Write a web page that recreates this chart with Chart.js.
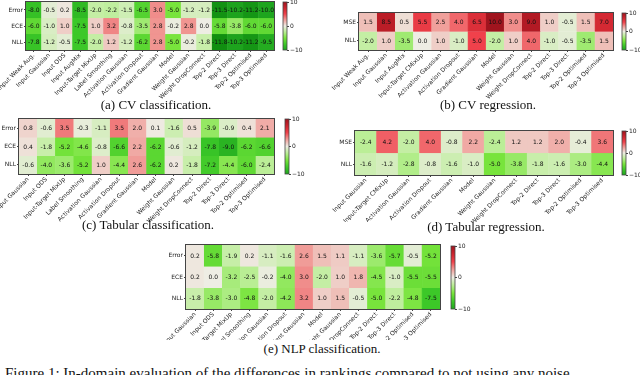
<!DOCTYPE html>
<html><head><meta charset="utf-8">
<script src="https://cdn.jsdelivr.net/npm/chart.js@4"></script>
<style>
body{margin:0;width:640px;height:375px;overflow:hidden;background:#fff;position:relative;}
canvas{position:absolute;}
.cap{position:absolute;font-family:"Liberation Serif","DejaVu Serif",serif;font-size:13px;color:#111;white-space:nowrap;transform:translate(-50%,-50%);}
.fig{position:absolute;left:5px;top:365px;font-family:"Liberation Serif","DejaVu Serif",serif;font-size:15px;color:#111;white-space:nowrap;}
</style></head><body>
<canvas id="ha"></canvas><canvas id="hb"></canvas><canvas id="hc"></canvas><canvas id="hd"></canvas><canvas id="he"></canvas>
<canvas id="ca"></canvas><canvas id="cb"></canvas><canvas id="cc"></canvas><canvas id="cd"></canvas><canvas id="ce"></canvas>
<div class="cap" style="left:156px;top:105px">(a) CV classification.</div>
<div class="cap" style="left:488px;top:105px">(b) CV regression.</div>
<div class="cap" style="left:148px;top:225px">(c) Tabular classification.</div>
<div class="cap" style="left:486px;top:227px">(d) Tabular regression.</div>
<div class="cap" style="left:322px;top:349px">(e) NLP classification.</div>
<div class="fig">Figure 1: In-domain evaluation of the differences in rankings compared to not using any noise</div>
<script>
// ---------- DATA ----------
const cvClsCols = ["Input Weak Aug.","Input Gaussian","Input ODS","Input AugMix","Input-Target MixUp","Label Smoothing","Activation Gaussian","Activation Dropout","Gradient Gaussian","Model","Weight Gaussian","Weight DropConnect","Top-2 Direct","Top-3 Direct","Top-2 Optimised","Top-3 Optimised"];
const cvClsRows = ["Error","ECE","NLL"];
const cvClsError = [-8.0,-0.5,0.2,-8.5,-2.0,-2.2,-1.5,-6.5,3.0,-5.0,-1.2,-1.2,-11.5,-10.2,-11.2,-10.0];
const cvClsECE   = [-6.0,-1.0,1.0,-7.5,1.0,3.2,-0.8,-3.5,2.8,-0.2,2.8,0.0,-5.8,-3.8,-6.0,-6.0];
const cvClsNLL   = [-7.8,-1.2,-0.5,-7.5,-2.0,1.2,-1.2,-6.2,2.8,-5.0,-0.2,-1.8,-11.8,-10.2,-11.2,-9.5];

const cvRegCols = ["Input Weak Aug.","Input Gaussian","Input AugMix","Input-Target CMixUp","Activation Gaussian","Activation Dropout","Gradient Gaussian","Model","Weight Gaussian","Weight DropConnect","Top-2 Direct","Top-3 Direct","Top-2 Optimised","Top-3 Optimised"];
const cvRegRows = ["MSE","NLL"];
const cvRegMSE = [1.5,8.5,0.5,5.5,2.5,4.0,6.5,10.0,3.0,9.0,1.0,-0.5,1.5,7.0];
const cvRegNLL = [-2.0,1.0,-3.5,0.0,1.0,-1.0,5.0,-2.0,1.0,4.0,-1.0,-0.5,-3.5,1.5];

const tabClsCols = ["Input Gaussian","Input ODS","Input-Target MixUp","Label Smoothing","Activation Gaussian","Activation Dropout","Gradient Gaussian","Model","Weight Gaussian","Weight DropConnect","Top-2 Direct","Top-3 Direct","Top-2 Optimised","Top-3 Optimised"];
const tabClsRows = ["Error","ECE","NLL"];
const tabClsError = [0.8,-0.6,3.5,-0.3,-1.1,3.5,2.0,0.1,-1.6,0.5,-3.9,-0.9,0.4,2.1];
const tabClsECE   = [0.4,-1.8,-5.2,-4.6,-0.8,-6.6,2.2,-6.2,-0.6,-1.2,-7.8,-9.0,-6.2,-6.6];
const tabClsNLL   = [-0.6,-4.0,-3.6,-5.2,1.0,-4.4,2.6,-6.2,0.2,-1.8,-7.2,-4.4,-6.0,-2.4];

const tabRegCols = ["Input Gaussian","Input-Target CMixUp","Activation Gaussian","Activation Dropout","Gradient Gaussian","Model","Weight Gaussian","Weight DropConnect","Top-2 Direct","Top-3 Direct","Top-2 Optimised","Top-3 Optimised"];
const tabRegRows = ["MSE","NLL"];
const tabRegMSE = [-2.4,4.2,-2.0,4.0,-0.8,2.2,-2.4,1.2,1.2,2.0,-0.4,3.6];
const tabRegNLL = [-1.6,-1.2,-2.8,-0.8,-1.6,-1.0,-5.0,-3.8,-1.8,-1.6,-3.0,-4.4];

const nlpClsCols = ["Input Gaussian","Input ODS","Input-Target MixUp","Label Smoothing","Activation Gaussian","Activation Dropout","Gradient Gaussian","Model","Weight Gaussian","Weight DropConnect","Top-2 Direct","Top-3 Direct","Top-2 Optimised","Top-3 Optimised"];
const nlpClsRows = ["Error","ECE","NLL"];
const nlpClsError = [0.2,-5.8,-1.9,0.2,-1.1,-1.6,2.6,1.5,1.1,-1.1,-3.6,-5.7,-0.5,-5.2];
const nlpClsECE   = [0.2,0.0,-3.2,-2.5,-0.2,-4.0,3.0,-2.0,1.0,1.8,-4.5,-1.0,-5.5,-5.5];
const nlpClsNLL   = [-1.8,-3.8,-3.0,-4.8,-2.0,-4.2,3.2,1.0,1.5,-0.5,-5.0,-2.2,-4.8,-7.5];

const cbarTicks = [-10,0,10];

// ---------- COLOUR MAP ----------
const stops = [
 [-12,[15,140,15]],[-10,[30,165,30]],[-7.5,[60,200,40]],[-5,[120,228,60]],[-2.5,[185,238,148]],
 [0,[238,237,228]],[2.5,[240,160,155]],[5,[240,65,75]],[7.5,[205,35,45]],[10,[160,20,30]],[12,[130,10,20]]
];
function colorFor(v){
  if(v<=stops[0][0]) return 'rgb('+stops[0][1].join(',')+')';
  for(let k=1;k<stops.length;k++){
    if(v<=stops[k][0]){
      const [v0,c0]=stops[k-1],[v1,c1]=stops[k];
      const t=(v-v0)/(v1-v0);
      return 'rgb('+c0.map((c,j)=>Math.round(c+(c1[j]-c)*t)).join(',')+')';
    }
  }
  return 'rgb('+stops[stops.length-1][1].join(',')+')';
}

const FONT = {family:'"DejaVu Sans"', size:6};
const TXT = '#222';

const cellPlugin = {
  id:'cells',
  afterDatasetsDraw(chart){
    const ctx=chart.ctx;
    ctx.save();
    ctx.font='6px "DejaVu Sans"';
    ctx.fillStyle='#111'; ctx.textAlign='center'; ctx.textBaseline='middle';
    chart.data.datasets.forEach((ds,di)=>{
      const meta=chart.getDatasetMeta(di);
      meta.data.forEach((el,i)=>{
        const p=el.getProps(['x','y','base'],true);
        ctx.fillText(ds.vals[i].toFixed(1), p.x, (p.y+p.base)/2+0.5);
      });
    });
    const a=chart.chartArea;
    ctx.strokeStyle='#444'; ctx.lineWidth=1;
    ctx.strokeRect(Math.round(a.left)-0.5, Math.round(a.top)-0.5, Math.round(a.right-a.left)+1, Math.round(a.bottom-a.top)+1);
    ctx.restore();
  }
};

function place(id,cx,cy,cw,ch){
  const c=document.getElementById(id);
  c.width=cw; c.height=ch;
  c.style.left=cx+'px'; c.style.top=cy+'px';
  c.style.width=cw+'px'; c.style.height=ch+'px';
  return c;
}

function heat(id, cols, rowNames, rowVals, g){
  const c=place(id,g.cx,g.cy,g.cw,g.ch);
  const n=rowNames.length;
  const yw=g.L-g.cx, xh=g.cy+g.ch-g.B;
  const datasets=rowVals.map((vals,i)=>({
    data: vals.map(()=>[n-1-i, n-i]),
    vals,
    backgroundColor: vals.map(colorFor),
    borderColor: vals.map(colorFor),
    borderWidth:0.6, borderSkipped:false,
    barPercentage:1, categoryPercentage:1, grouped:false
  }));
  new Chart(c,{
    type:'bar',
    data:{labels:cols, datasets},
    options:{
      responsive:false, animation:false, devicePixelRatio:1,
      layout:{padding:{left:0, top:g.T-g.cy, right:g.cx+g.cw-g.R, bottom:0}},
      plugins:{legend:{display:false}, tooltip:{enabled:false}},
      scales:{
        x:{type:'category', offset:true,
           grid:{offset:false, drawOnChartArea:false, drawTicks:true, tickLength:2, color:'#444'},
           border:{display:false},
           ticks:{autoSkip:false, maxRotation:45, minRotation:45, font:FONT, color:TXT, padding:0},
           afterFit(s){ s.height=xh; s.paddingLeft=0; s.paddingRight=0; }},
        y:{type:'linear', min:0, max:n,
           afterBuildTicks(s){ s.ticks=rowNames.map((_,i)=>({value:n-0.5-i})); },
           grid:{drawOnChartArea:false, drawTicks:true, tickLength:2, color:'#444'},
           border:{display:false},
           ticks:{font:FONT, color:TXT, padding:1, callback:(v)=>rowNames[Math.round(n-0.5-v)]},
           afterFit(s){ s.width=yw; s.paddingTop=0; s.paddingBottom=0; }}
      }
    },
    plugins:[cellPlugin]
  });
}

const cbarBorder = {
  id:'cbb',
  afterDatasetsDraw(chart){
    const a=chart.chartArea, ctx=chart.ctx;
    ctx.save(); ctx.strokeStyle='#444'; ctx.lineWidth=0.8;
    ctx.strokeRect(a.left, a.top, a.right-a.left, a.bottom-a.top);
    ctx.restore();
  }
};

function cbar(id, cx, cy, cw, ch, T, B){
  const c=place(id,cx,cy,cw,ch);
  const yw=cw-1-4;
  new Chart(c,{
    type:'bar',
    data:{labels:['cb'], datasets:[{
      data:[[cbarTicks[0], cbarTicks[cbarTicks.length-1]]],
      backgroundColor:(ctx)=>{
        const a=ctx.chart.chartArea; if(!a) return '#ccc';
        const gr=ctx.chart.ctx.createLinearGradient(0,a.bottom,0,a.top);
        for(let k=0;k<=20;k++) gr.addColorStop(k/20, colorFor(-10+k));
        return gr;
      },
      barPercentage:1, categoryPercentage:1, borderWidth:0
    }]},
    options:{
      responsive:false, animation:false, devicePixelRatio:1,
      layout:{padding:{left:1, top:T-cy, right:0, bottom:cy+ch-B}},
      plugins:{legend:{display:false}, tooltip:{enabled:false}},
      scales:{
        x:{display:false},
        y:{position:'right', min:-10, max:10,
           afterBuildTicks(s){ s.ticks=cbarTicks.map(v=>({value:v})); },
           grid:{drawOnChartArea:false, drawTicks:true, tickLength:2, color:'#444'},
           border:{display:false},
           ticks:{font:FONT, color:TXT, padding:1, callback:(v)=> v<0 ? '\u2212'+Math.abs(v) : String(v)},
           afterFit(s){ s.width=yw; s.paddingTop=0; s.paddingBottom=0; }}
      }
    },
    plugins:[cbarBorder]
  });
}

heat('ha', cvClsCols, cvClsRows, [cvClsError,cvClsECE,cvClsNLL], {cx:0,cy:0,cw:278,ch:100,L:26,R:274,T:2,B:50});
heat('hb', cvRegCols, cvRegRows, [cvRegMSE,cvRegNLL], {cx:330,cy:0,cw:286,ch:100,L:359,R:613,T:13,B:50});
heat('hc', tabClsCols, tabClsRows, [tabClsError,tabClsECE,tabClsNLL], {cx:0,cy:112,cw:278,ch:110,L:19,R:274,T:119,B:174});
heat('hd', tabRegCols, tabRegRows, [tabRegMSE,tabRegNLL], {cx:330,cy:122,cw:286,ch:100,L:355,R:613,T:131,B:175});
heat('he', nlpClsCols, nlpClsRows, [nlpClsError,nlpClsECE,nlpClsNLL], {cx:150,cy:240,cw:294,ch:100,L:186,R:440,T:245,B:309});

cbar('ca', 282, 0, 30, 56, 2, 50);
cbar('cb', 621, 0, 19, 56, 13, 50);
cbar('cc', 284, 112, 30, 70, 119, 174);
cbar('cd', 621, 122, 19, 60, 131, 175);
cbar('ce', 450, 240, 30, 76, 246, 309);
</script>
</body></html>
